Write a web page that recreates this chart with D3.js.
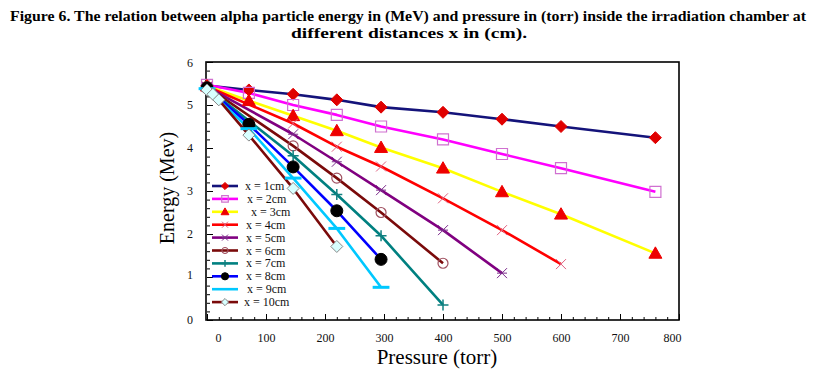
<!DOCTYPE html>
<html>
<head>
<meta charset="utf-8">
<script src="https://cdn.jsdelivr.net/npm/d3@7"></script>
<style>
  html, body { margin: 0; padding: 0; background: #fff; }
  svg { display: block; }
  text { font-family: "Liberation Serif", "Times New Roman", serif; }
</style>
</head>
<body>
<svg id="chart" width="817" height="383"></svg>
<script>
// ---------------- data ----------------
const titleLines = [
  "Figure 6. The relation between alpha particle energy in (MeV) and pressure in (torr) inside the irradiation chamber at",
  "different distances x in (cm)."
];
const xLabel = "Pressure (torr)";
const yLabel = "Energy (Mev)";
const xTicks = [0, 100, 200, 300, 400, 500, 600, 700, 800];
const yTicks = [0, 1, 2, 3, 4, 5, 6];

const seriesNames = ["x = 1cm", "x = 2cm", "x = 3cm", "x = 4cm", "x = 5cm",
                     "x = 6cm", "x = 7cm", "x = 8cm", "x = 9cm", "x = 10cm"];

const pressure1  = [0, 71, 146, 220, 295, 400, 500, 600, 760];
const energy1    = [5.45, 5.35, 5.25, 5.12, 4.95, 4.83, 4.67, 4.50, 4.24];
const pressure2  = [0, 71, 146, 220, 295, 400, 500, 600, 760];
const energy2    = [5.47, 5.28, 5.00, 4.77, 4.50, 4.20, 3.86, 3.53, 2.98];
const pressure3  = [0, 71, 146, 220, 295, 400, 500, 600, 760];
const energy3    = [5.44, 5.10, 4.75, 4.40, 4.01, 3.53, 2.98, 2.46, 1.55];
const pressure4  = [0, 146, 220, 295, 400, 500, 600];
const energy4    = [5.43, 4.57, 4.03, 3.57, 2.83, 2.09, 1.30];
const pressure5  = [0, 146, 220, 295, 400, 500];
const energy5    = [5.42, 4.32, 3.68, 3.02, 2.09, 1.09];
const pressure6  = [0, 146, 220, 295, 400];
const energy6    = [5.42, 4.05, 3.30, 2.50, 1.32];
const pressure7  = [0, 146, 220, 295, 400];
const energy7    = [5.40, 3.82, 2.92, 1.96, 0.35];
const pressure8  = [0, 71, 146, 220, 295];
const energy8    = [5.40, 4.55, 3.56, 2.54, 1.41];
const pressure9  = [0, 71, 146, 220, 295];
const energy9    = [5.38, 4.45, 3.30, 2.13, 0.76];
const pressure10 = [0, 10, 20, 71, 146, 220];
const energy10   = [5.35, 5.25, 5.12, 4.30, 3.06, 1.71];

const pressures = [pressure1, pressure2, pressure3, pressure4, pressure5,
                   pressure6, pressure7, pressure8, pressure9, pressure10];
const energies  = [energy1, energy2, energy3, energy4, energy5,
                   energy6, energy7, energy8, energy9, energy10];

// ---------------- styles ----------------
const lineColors = ["#14137a", "#ff00ff", "#ffff00", "#ff0000", "#800080",
                    "#7a0a0a", "#008080", "#0000ff", "#00c8ff", "#7a0a0a"];
const markers = [
  { type: "diamond",  fill: "#e00000", stroke: "#e00000", sw: 1 },
  { type: "square",   fill: "none",    stroke: "#d070d0", sw: 1.2 },
  { type: "triangle", fill: "#ee0000", stroke: "#ee0000", sw: 1 },
  { type: "x",        fill: "none",    stroke: "#e06080", sw: 1 },
  { type: "asterisk", fill: "none",    stroke: "#7a2a8a", sw: 1 },
  { type: "circle",   fill: "none",    stroke: "#a05060", sw: 1.2 },
  { type: "plus",     fill: "none",    stroke: "#108080", sw: 1.5 },
  { type: "dot",      fill: "#000000", stroke: "#000000", sw: 1 },
  { type: "dash",     fill: "none",    stroke: "#00c8ff", sw: 3 },
  { type: "ldiamond", fill: "#d8ffff", stroke: "#888888", sw: 1 }
];
const markerSize = { diamond: 6, ldiamond: 6, square: 5.5, triangle: 6.5, x: 5,
                     asterisk: 5, circle: 5, plus: 5.5, dot: 6, dash: 6 };

function mPath(type, s) {
  switch (type) {
    case "diamond":
    case "ldiamond": return `M0,${-s}L${s},0L0,${s}L${-s},0Z`;
    case "square":   return `M${-s},${-s}H${s}V${s}H${-s}Z`;
    case "triangle": return `M0,${-s}L${s},${s*0.75}L${-s},${s*0.75}Z`;
    case "x":        return `M${-s},${-s}L${s},${s}M${-s},${s}L${s},${-s}`;
    case "asterisk": return `M${-s},${-s}L${s},${s}M${-s},${s}L${s},${-s}M${-s},0H${s}`;
    case "plus":     return `M${-s},0H${s}M0,${-s}V${s}`;
    case "circle":
    case "dot":      return `M${s},0A${s},${s},0,1,1,${-s},0A${s},${s},0,1,1,${s},0Z`;
    case "dash":     return `M${-s*1.4},0H${s*1.4}`;
  }
  return "";
}

// ---------------- layout ----------------
const svg = d3.select("#chart");
const x = d3.scaleLinear().domain([0, 800]).range([207, 679]);
const y = d3.scaleLinear().domain([0, 6]).range([320, 62]);

// title
svg.append("text")
  .attr("x", 408).attr("y", 21)
  .attr("text-anchor", "middle")
  .attr("font-size", 15).attr("font-weight", "bold")
  .attr("textLength", 796).attr("lengthAdjust", "spacingAndGlyphs")
  .text(titleLines[0]);
svg.append("text")
  .attr("x", 409).attr("y", 38)
  .attr("text-anchor", "middle")
  .attr("font-size", 15).attr("font-weight", "bold")
  .attr("textLength", 236).attr("lengthAdjust", "spacingAndGlyphs")
  .text(titleLines[1]);

// ticks
const xMinor = d3.range(0, 801, 20).filter(v => v % 100 !== 0);
const yMinor = d3.range(0, 6.01, 0.2).map(v => +v.toFixed(1)).filter(v => Math.abs(v - Math.round(v)) > 1e-6);

const xAxisG = svg.append("g").attr("transform", `translate(0,${y(0)})`);
xAxisG.call(d3.axisBottom(x).tickValues(xTicks).tickFormat(d3.format("d"))
  .tickSizeInner(-6).tickSizeOuter(0).tickPadding(13));
xAxisG.append("g").call(d3.axisBottom(x).tickValues(xMinor).tickSizeInner(-3).tickSizeOuter(0).tickFormat(""));

const yAxisG = svg.append("g").attr("transform", `translate(${x(0)},0)`);
yAxisG.call(d3.axisLeft(y).tickValues(yTicks).tickFormat(d3.format("d"))
  .tickSizeInner(-6).tickSizeOuter(0).tickPadding(14));
yAxisG.append("g").call(d3.axisLeft(y).tickValues(yMinor).tickSizeInner(-3).tickSizeOuter(0).tickFormat(""));

svg.selectAll(".domain").remove();
svg.selectAll(".tick line").attr("stroke", "#000").attr("stroke-width", 1);
svg.selectAll(".tick text")
  .attr("font-family", "'Liberation Serif', serif")
  .attr("font-size", 12).attr("fill", "#111");
// end labels nudged inward as in the original
xAxisG.selectAll(".tick text").filter(d => d === 0).attr("dx", 11);
xAxisG.selectAll(".tick text").filter(d => d === 800).attr("dx", -7);
yAxisG.selectAll(".tick text").filter(d => d === 6).attr("dy", "0.4em");
yAxisG.selectAll(".tick text").filter(d => d === 1).attr("dy", "0.1em");

// frame
svg.append("rect")
  .attr("x", x(0) - 1).attr("y", y(6))
  .attr("width", x(800) - x(0) + 1).attr("height", y(0) - y(6))
  .attr("fill", "none").attr("stroke", "#000").attr("stroke-width", 1.6);

// axis titles
svg.append("text")
  .attr("transform", `translate(174,188) rotate(-90)`)
  .attr("text-anchor", "middle")
  .attr("font-size", 20)
  .text(yLabel);
svg.append("text")
  .attr("x", 437).attr("y", 364)
  .attr("text-anchor", "middle")
  .attr("font-size", 21)
  .text(xLabel);

// series
const line = d3.line().x(d => x(d[0])).y(d => y(d[1]));
const plot = svg.append("g");
seriesNames.forEach((name, i) => {
  const pts = pressures[i].map((p, k) => [p, energies[i][k]]);
  plot.append("path")
    .datum(pts)
    .attr("d", line)
    .attr("fill", "none")
    .attr("stroke", lineColors[i])
    .attr("stroke-width", 2.6)
    .attr("stroke-linejoin", "round");
});
seriesNames.forEach((name, i) => {
  const pts = pressures[i].map((p, k) => [p, energies[i][k]]);
  const m = markers[i];
  plot.selectAll(null)
    .data(pts)
    .enter().append("path")
    .attr("transform", d => `translate(${x(d[0])},${y(d[1])})`)
    .attr("d", mPath(m.type, markerSize[m.type]))
    .attr("fill", m.fill)
    .attr("stroke", m.stroke)
    .attr("stroke-width", m.sw);
});

// legend
const legend = svg.append("g");
const legTop = 186, legStep = 12.9;
const textX = [245, 247, 251, 246, 246, 246, 246, 246, 247, 244];
seriesNames.forEach((name, i) => {
  const ly = legTop + i * legStep;
  const g = legend.append("g");
  g.append("line")
    .attr("x1", 212).attr("x2", 238).attr("y1", ly).attr("y2", ly)
    .attr("stroke", lineColors[i]).attr("stroke-width", 2.6);
  const m = markers[i];
  if (m.type !== "dash") {
    g.append("path")
      .attr("transform", `translate(225,${ly})`)
      .attr("d", mPath(m.type, markerSize[m.type] * 0.6))
      .attr("fill", m.fill).attr("stroke", m.stroke).attr("stroke-width", m.sw);
  }
  g.append("text")
    .attr("x", textX[i]).attr("y", ly + 4)
    .attr("font-size", 12).attr("fill", "#111")
    .text(name);
});
</script>
</body>
</html>
